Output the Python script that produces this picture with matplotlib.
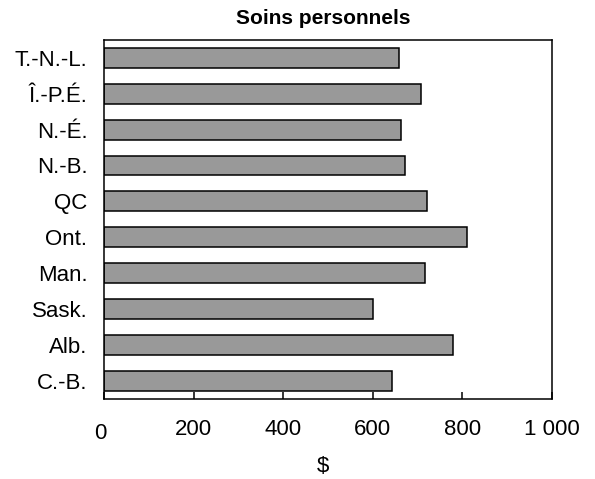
import matplotlib
matplotlib.use("Agg")
import matplotlib.pyplot as plt
import matplotlib.transforms as mtransforms

plt.rcParams['font.family'] = ['Liberation Sans', 'DejaVu Sans']

provinces = ['C.-B.', 'Alb.', 'Sask.', 'Man.', 'Ont.', 'QC', 'N.-B.', 'N.-É.', 'Î.-P.É.', 'T.-N.-L.']
values = [642, 780, 601, 717, 810, 722, 672, 664, 708, 659]
xticks = [0, 200, 400, 600, 800, 1000]
xtick_labels = ['0', '200', '400', '600', '800', '1 000']

fig = plt.figure(figsize=(5.95, 4.79), dpi=100)
ax = fig.add_axes([104/595, 1-398.5/479, 448/595, 358.5/479])

ax.barh(range(len(provinces)), values, height=0.556, color='#999999',
        edgecolor='black', linewidth=1.1)
ax.set_xlim(0, 1000)
ax.set_ylim(-0.5, len(provinces) - 0.5)
ax.set_yticks(range(len(provinces)))
ax.set_yticklabels(provinces, fontsize=16)
ax.set_xticks(xticks)
ax.set_xticklabels(xtick_labels, fontsize=16)
ax.tick_params(axis='x', direction='in', length=5, width=1.1, pad=15)
ax.tick_params(axis='y', length=0, pad=12)
for s in ax.spines.values():
    s.set_linewidth(1.1)

# Excel-like offset of the "0" label
lbl0 = ax.get_xticklabels()[0]
lbl0.set_transform(lbl0.get_transform() + mtransforms.ScaledTranslation(-4/100, -4/100, fig.dpi_scale_trans))

fig.text(323/595, 1-19/479, 'Soins personnels', ha='center', va='center',
         fontsize=15, fontweight='bold')
fig.text(323/595, 1-466/479, '$', ha='center', va='center', fontsize=16)

fig.savefig('out.png', dpi=100)
